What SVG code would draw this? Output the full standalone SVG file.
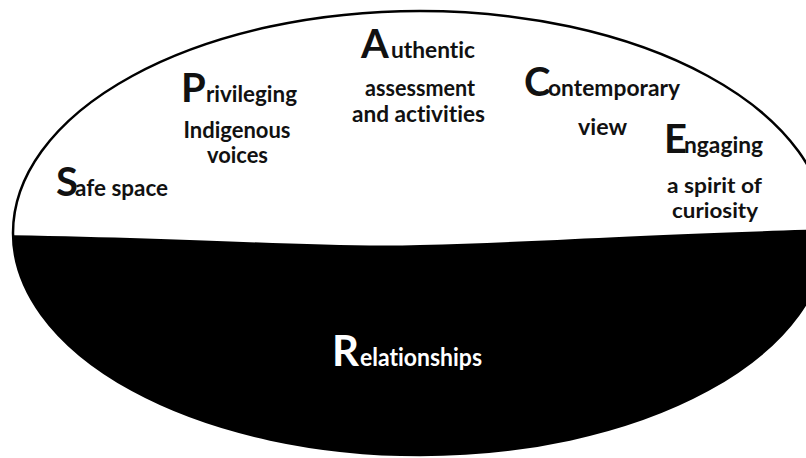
<svg xmlns="http://www.w3.org/2000/svg" width="806" height="458" viewBox="0 0 806 458">
  <style>
    text { font-family: Lato, "Open Sans", "Liberation Sans", sans-serif; font-weight: bold; fill: #111; font-variant-ligatures: none; }
    .cap { font-size: 40px; }
    .sm { font-size: 22px; }
    .mid { text-anchor: middle; }
    .inv { fill: #fff; }
  </style>
  <defs>
    <clipPath id="oval">
      <ellipse cx="420" cy="233" rx="407" ry="222"/>
    </clipPath>
  </defs>

  <rect x="0" y="0" width="806" height="458" fill="#fff"/>

  <!-- lower half of the oval, filled black below the dividing line -->
  <g id="base">
    <path d="M0 235 C200 238 330 248 420 245 C520 243 600 236 830 229 L830 470 L0 470 Z" fill="#000" clip-path="url(#oval)"/>
    <ellipse cx="420" cy="233" rx="407" ry="222" fill="none" stroke="#000" stroke-width="2.5"/>
  </g>

  <g id="safe-space">
    <text class="cap" x="56" y="196">S</text>
    <text class="sm" x="75" y="196" textLength="93" lengthAdjust="spacingAndGlyphs">afe space</text>
  </g>

  <g id="privileging">
    <text class="cap" x="181" y="102">P</text>
    <text class="sm" x="206" y="102" textLength="91" lengthAdjust="spacingAndGlyphs">rivileging</text>
    <text class="sm mid" x="237" y="138" textLength="107" lengthAdjust="spacingAndGlyphs">Indigenous</text>
    <text class="sm mid" x="237.5" y="163" textLength="61" lengthAdjust="spacingAndGlyphs">voices</text>
  </g>

  <g id="authentic">
    <text class="cap" x="361" y="58">A</text>
    <text class="sm" x="391" y="58" textLength="84" lengthAdjust="spacingAndGlyphs">uthentic</text>
    <text class="sm mid" x="420" y="96" textLength="110" lengthAdjust="spacingAndGlyphs">assessment</text>
    <text class="sm mid" x="418.5" y="122" textLength="133" lengthAdjust="spacingAndGlyphs">and activities</text>
  </g>

  <g id="contemporary">
    <text class="cap" x="524" y="96">C</text>
    <text class="sm" x="548" y="96" textLength="132" lengthAdjust="spacingAndGlyphs">ontemporary</text>
    <text class="sm mid" x="602.5" y="135" textLength="49" lengthAdjust="spacingAndGlyphs">view</text>
  </g>

  <g id="engaging">
    <text class="cap" x="664" y="153">E</text>
    <text class="sm" x="684" y="153" textLength="79" lengthAdjust="spacingAndGlyphs">ngaging</text>
    <text class="sm mid" x="714.5" y="193" textLength="95" lengthAdjust="spacingAndGlyphs" style="font-size:20px">a spirit of</text>
    <text class="sm mid" x="715" y="218" textLength="86" lengthAdjust="spacingAndGlyphs" style="font-size:20px">curiosity</text>
  </g>

  <g id="relationships">
    <text class="cap inv" x="332" y="366" style="font-size:42px">R</text>
    <text class="sm inv" x="360" y="366" textLength="122" lengthAdjust="spacingAndGlyphs" style="font-size:24px">elationships</text>
  </g>
</svg>
